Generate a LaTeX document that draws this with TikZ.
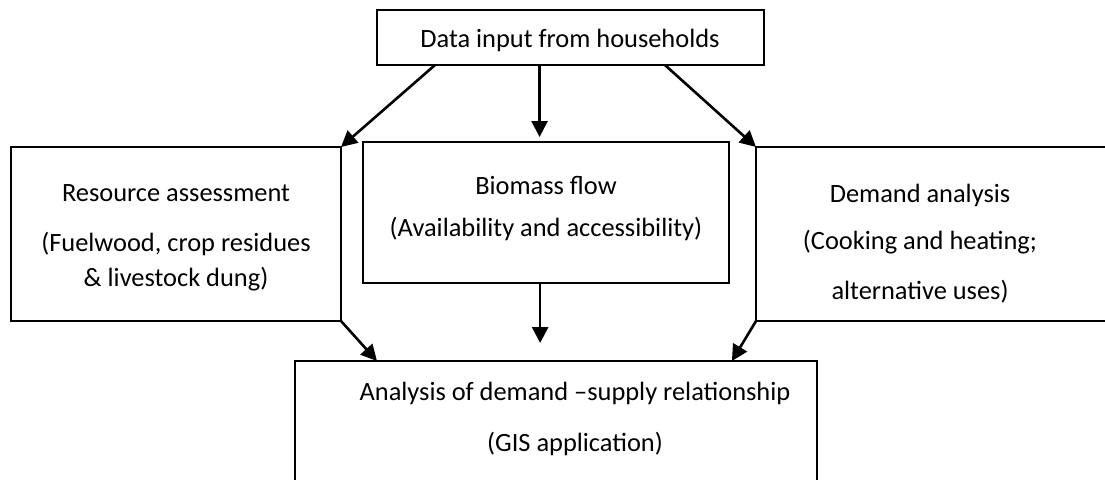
\documentclass[tikz,border=0pt]{standalone}
\usepackage{fontspec}
\setmainfont{Carlito}
\usetikzlibrary{arrows.meta,calc}
\begin{document}
\begin{tikzpicture}[x=1pt,y=-1pt,
  box/.style={draw, line width=1.8pt, rectangle, inner sep=0pt, outer sep=0pt},
  txt/.style={anchor=base, inner sep=0pt, font=\fontsize{26.4}{30}\selectfont},
  arr/.style={line width=2.6pt, -{Triangle[length=16pt,width=16pt]}}]
\useasboundingbox (0,0) rectangle (1105,479);
\clip (0,0) rectangle (1105,479);
\fill[white] (0,0) rectangle (1105,479);
% boxes
\node[box, minimum width=387pt, minimum height=55pt] (top) at (570.5,37.5) {};
\node[box, minimum width=330pt, minimum height=174pt] (res) at (176,234) {};
\node[box, minimum width=366pt, minimum height=141pt] (bio) at (546,212.5) {};
\node[box, minimum width=364pt, minimum height=174pt] (dem) at (938,234) {};
\node[box, minimum width=522pt, minimum height=150pt] (ana) at (556,436) {};
% texts
\node[txt] (topt) at (570,47) {Data input from households};
\node[txt] (rest1) at (176,201) {Resource assessment};
\node[txt] (rest2) at (176,251) {(Fuelwood, crop residues};
\node[txt] (rest3) at (176,286) {\& livestock dung)};
\node[txt] (biot1) at (546,194) {Biomass flow};
\node[txt] (biot2) at (546,236) {(Availability and accessibility)};
\node[txt] (demt1) at (920,202) {Demand analysis};
\node[txt] (demt2) at (920,249) {(Cooking and heating;};
\node[txt] (demt3) at (920,299) {alternative uses)};
\node[txt] (anat1) at (575,400) {Analysis of demand –supply relationship};
\node[txt] (anat2) at (575,451) {(GIS application)};
% connectors
\coordinate (s1) at ($(top.south west)!0.15!(top.south east)$);
\coordinate (s2) at ($(top.south west)!0.42!(top.south east)$);
\coordinate (s3) at ($(top.south west)!0.744!(top.south east)$);
\coordinate (b1) at ($(bio.south west)!0.484!(bio.south east)$);
\coordinate (e1) at ($(ana.north west)!0.157!(ana.north east)$);
\coordinate (e3) at ($(ana.north west)!0.837!(ana.north east)$);
\draw[arr] (s1) -- (res.north east);
\draw[arr, shorten >=5pt] (s2) -- (s2 |- bio.north);
\draw[arr] (s3) -- (dem.north west);
\draw[arr] (res.south east) -- (e1);
\draw[arr, shorten >=18pt] (b1) -- (b1 |- ana.north);
\draw[arr] (dem.south west) -- (e3);
\end{tikzpicture}
\end{document}
